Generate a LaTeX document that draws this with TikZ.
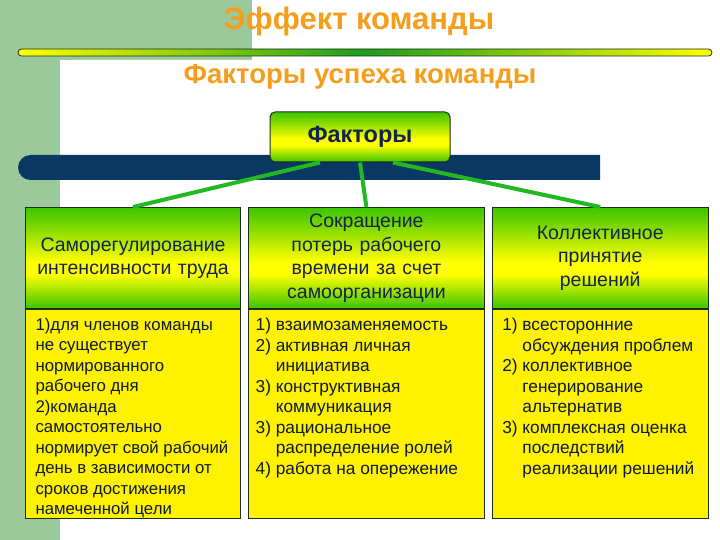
\documentclass[tikz,border=0pt]{standalone}
\usepackage{fontspec}
\setmainfont{Liberation Sans}
\usepackage{xcolor}
\usetikzlibrary{positioning}
\definecolor{bggreen}{HTML}{9CC99A}
\definecolor{titleorange}{HTML}{F59E1C}
\definecolor{barblue}{HTML}{0B3763}
\definecolor{boxgreen}{HTML}{3CC400}
\definecolor{linkgreen}{HTML}{22B822}
\definecolor{textnavy}{HTML}{13254A}
\definecolor{edgedark}{HTML}{1E2E1E}
\pgfdeclareverticalshading{greenband}{100bp}{color(0bp)=(boxgreen); color(25bp)=(boxgreen);
    color(42bp)=(yellow); color(48bp)=(yellow); color(75bp)=(boxgreen); color(100bp)=(boxgreen)}
\newcommand{\contind}{\phantom{1) }}
\newcommand{\colbody}[2]{\parbox[t][192pt][t]{#1}{#2}}

\begin{document}
\begin{tikzpicture}[x=1pt, y=-1pt,
    heading/.style={font=\bfseries\fontsize{31pt}{34pt}\selectfont, text=titleorange, inner sep=0pt},
    subheading/.style={font=\bfseries\fontsize{27.5pt}{30pt}\selectfont, text=titleorange, inner sep=0pt},
    factbox/.style={draw=edgedark, line width=1pt, rounded corners=5pt, shading=greenband,
        minimum width=180pt, minimum height=50pt,
        font=\bfseries\fontsize{23.5pt}{26pt}\selectfont, text=textnavy},
    headbox/.style={draw=edgedark, line width=1.1pt, shading=greenband,
        minimum height=101pt, inner sep=0pt, align=center,
        font=\fontsize{19.5pt}{23.5pt}\selectfont, text=textnavy},
    bodybox/.style={draw=edgedark, line width=1.1pt, fill=yellow,
        minimum height=209pt, inner ysep=8pt, anchor=north,
        font=\fontsize{17.3pt}{20.5pt}\selectfont, text=textnavy!70!black},
    link/.style={linkgreen, line width=4pt}
]
\useasboundingbox (0,0) rectangle (720,540);

% page background with green corner
\fill[white] (0,0) rectangle (720,540);
\fill[bggreen] (0,0) rectangle (252,60);
\fill[bggreen] (0,0) rectangle (60,540);
\fill[white, rounded corners=16pt] (60,60) rectangle (740,560);

% titles and rule
\node[heading] (ttl) at (359,21) {Эффект команды};
\shade[draw=edgedark, line width=0.8pt, left color=yellow, right color=yellow,
    middle color=linkgreen!85!black, rounded corners=3.5pt] (18,49) rectangle (712,56);
\node[subheading] (sub) at (360,77) {Факторы успеха команды};

% dark bar behind the root box
\fill[barblue] (600,155) -- (30.5,155) arc[start angle=270, end angle=90, radius=12.5] -- (600,180) -- cycle;

% root
\node[factbox] (fact) at (360,137) {Факторы};

% header row
\node[headbox, minimum width=215pt, text width=205pt, anchor=north west] (h1) at (25,207)
    {Саморегулирование\\интенсивности труда};
\node[headbox, minimum width=235.5pt, text width=225pt, right=7pt of h1] (h2)
    {Сокращение\\потерь рабочего\\времени за счет\\самоорганизации};
\node[headbox, minimum width=216pt, text width=206pt, right=7pt of h2] (h3)
    {Коллективное\\принятие\\решений};

% links
\draw[link] ([xshift=-40pt]fact.south) -- (h1.north);
\draw[link] (fact.south) -- (h2.north);
\draw[link] ([xshift=33pt]fact.south) -- (h3.north);

% bodies
\node[bodybox, inner xsep=10pt, below=0pt of h1, font=\fontsize{16.8pt}{20.5pt}\selectfont] (b1) {\colbody{195pt}{%
    1)для членов команды\\
    не существует\\
    нормированного\\
    рабочего дня\\
    2)команда\\
    самостоятельно\\
    нормирует свой рабочий\\
    день в зависимости от\\
    сроков достижения\\
    намеченной цели}};
\node[bodybox, inner xsep=7pt, below=0pt of h2] (b2) {\colbody{221.5pt}{%
    1) взаимозаменяемость\\
    2) активная личная\\
    \contind инициатива\\
    3) конструктивная\\
    \contind коммуникация\\
    3) рациональное\\
    \contind распределение ролей\\
    4) работа на опережение}};
\node[bodybox, inner xsep=10pt, below=0pt of h3] (b3) {\colbody{196pt}{%
    1) всесторонние\\
    \contind обсуждения проблем\\
    2) коллективное\\
    \contind генерирование\\
    \contind альтернатив\\
    3) комплексная оценка\\
    \contind последствий\\
    \contind реализации решений}};

\end{tikzpicture}
\end{document}
